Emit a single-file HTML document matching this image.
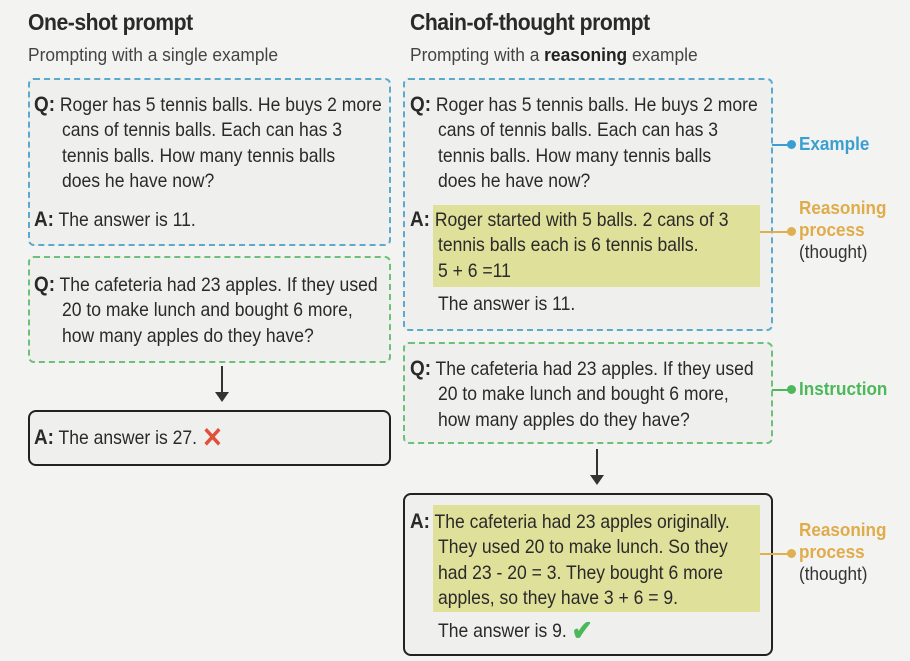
<!DOCTYPE html>
<html><head><style>
body{margin:0;width:910px;height:661px;background:#f3f3f2;position:relative;overflow:hidden;font-family:"Liberation Sans",sans-serif;color:#2a2a2a}
div{position:absolute;box-sizing:border-box}
.t{font-size:23px;font-weight:bold;letter-spacing:-0.5px;transform:scaleX(0.92);transform-origin:0 0;white-space:nowrap}
.s{font-size:18.3px;color:#444;white-space:nowrap;transform:scaleX(0.95);transform-origin:0 0}
.bx{border-radius:6px;background:#efefee}
.bl{border:2px dashed #5aa9cf}
.gr{border:2px dashed #6cc07a}
.so{border:2px solid #222;border-radius:8px}
.tx{font-size:19.5px;line-height:25.5px;white-space:nowrap;transform:scaleX(0.9);transform-origin:0 0}
.q{font-weight:bold;font-size:21px}
.hl{background:#dfe09a}
.lab{font-size:18px;font-weight:bold;line-height:22px;transform:scaleX(0.95);transform-origin:0 0}
.ln{height:2px}
.dot{width:9px;height:9px;border-radius:50%}
</style></head><body>
<div class="t" style="left:28px;top:9px">One-shot prompt</div>
<div class="s" style="left:28px;top:44px">Prompting with a single example</div>
<div class="t" style="left:410px;top:9px">Chain-of-thought prompt</div>
<div class="s" style="left:410px;top:44px">Prompting with a <b style="color:#222">reasoning</b> example</div>

<div class="bx bl" style="left:28px;top:78px;width:363px;height:168px"></div>
<div class="tx" style="left:34px;top:92px"><span class="q">Q:</span> Roger has 5 tennis balls. He buys 2 more</div>
<div class="tx" style="left:62px;top:118px">cans of tennis balls. Each can has 3<br>tennis balls. How many tennis balls<br>does he have now?</div>
<div class="tx" style="left:34px;top:207px"><span class="q">A:</span> The answer is 11.</div>

<div class="bx gr" style="left:28px;top:256px;width:363px;height:107px"></div>
<div class="tx" style="left:34px;top:272px"><span class="q">Q:</span> The cafeteria had 23 apples. If they used</div>
<div class="tx" style="left:62px;top:298px">20 to make lunch and bought 6 more,<br>how many apples do they have?</div>

<div style="left:221px;top:366px;width:2px;height:28px;background:#333"></div>
<div style="left:215px;top:392px;width:0;height:0;border-left:7px solid transparent;border-right:7px solid transparent;border-top:10px solid #333"></div>

<div class="bx so" style="left:28px;top:410px;width:363px;height:56px"></div>
<div class="tx" style="left:34px;top:425px"><span class="q">A:</span> The answer is 27. <span style="color:#e0503a;font-weight:bold;font-size:28px;vertical-align:-3px">✕</span></div>

<div class="bx bl" style="left:403px;top:78px;width:370px;height:253px"></div>
<div class="hl" style="left:433px;top:205px;width:327px;height:82px"></div>
<div class="tx" style="left:410px;top:92px"><span class="q">Q:</span> Roger has 5 tennis balls. He buys 2 more</div>
<div class="tx" style="left:438px;top:118px">cans of tennis balls. Each can has 3<br>tennis balls. How many tennis balls<br>does he have now?</div>
<div class="tx" style="left:410px;top:207px"><span class="q">A:</span> Roger started with 5 balls. 2 cans of 3</div>
<div class="tx" style="left:438px;top:233px">tennis balls each is 6 tennis balls.<br>5 + 6 =11</div>
<div class="tx" style="left:438px;top:292px">The answer is 11.</div>

<div class="bx gr" style="left:403px;top:342px;width:370px;height:102px"></div>
<div class="tx" style="left:410px;top:356px"><span class="q">Q:</span> The cafeteria had 23 apples. If they used</div>
<div class="tx" style="left:438px;top:382px">20 to make lunch and bought 6 more,<br>how many apples do they have?</div>

<div style="left:596px;top:449px;width:2px;height:28px;background:#333"></div>
<div style="left:590px;top:475px;width:0;height:0;border-left:7px solid transparent;border-right:7px solid transparent;border-top:10px solid #333"></div>

<div class="bx so" style="left:403px;top:493px;width:370px;height:163px"></div>
<div class="hl" style="left:433px;top:505px;width:327px;height:107px"></div>
<div class="tx" style="left:410px;top:509px"><span class="q">A:</span> The cafeteria had 23 apples originally.</div>
<div class="tx" style="left:438px;top:535px">They used 20 to make lunch. So they<br>had 23 - 20 = 3. They bought 6 more<br>apples, so they have 3 + 6 = 9.</div>
<div class="tx" style="left:438px;top:618px">The answer is 9. <span style="color:#4cb85a;font-weight:bold;font-size:28px;vertical-align:-3px">✔</span></div>

<div class="ln" style="left:772px;top:144px;width:18px;background:#3a9fd0"></div>
<div class="dot" style="left:787px;top:140px;background:#3a9fd0"></div>
<div class="lab" style="left:799px;top:133px;color:#3a9fd0">Example</div>

<div class="ln" style="left:760px;top:231px;width:30px;background:#e0b050"></div>
<div class="dot" style="left:787px;top:227px;background:#e0b050"></div>
<div class="lab" style="left:799px;top:197px;color:#e0ac4a">Reasoning<br>process<br><span style="font-weight:normal;color:#333">(thought)</span></div>

<div class="ln" style="left:772px;top:389px;width:18px;background:#4cb85a"></div>
<div class="dot" style="left:787px;top:385px;background:#4cb85a"></div>
<div class="lab" style="left:799px;top:378px;color:#4cb85a">Instruction</div>

<div class="ln" style="left:760px;top:553px;width:30px;background:#e0b050"></div>
<div class="dot" style="left:787px;top:549px;background:#e0b050"></div>
<div class="lab" style="left:799px;top:519px;color:#e0ac4a">Reasoning<br>process<br><span style="font-weight:normal;color:#333">(thought)</span></div>
</body></html>
